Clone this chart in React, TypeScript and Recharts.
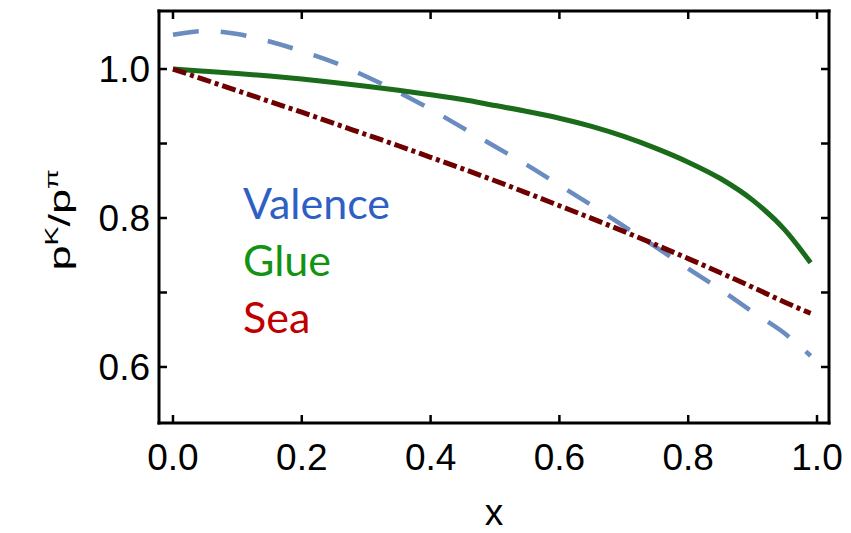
import React from 'react';
import { LineChart, Line, XAxis, YAxis, Legend } from 'recharts';

const xValues = [0, 0.05, 0.1, 0.15, 0.2, 0.25, 0.3, 0.35, 0.4, 0.45, 0.5, 0.55, 0.6, 0.65, 0.7, 0.75, 0.8, 0.85, 0.9, 0.95, 0.99];
const valence = [1.046, 1.051, 1.047, 1.037, 1.024, 1.009, 0.99, 0.969, 0.946, 0.921, 0.896, 0.871, 0.844, 0.817, 0.789, 0.761, 0.732, 0.704, 0.674, 0.645, 0.615];
const glue = [1.0, 0.997, 0.994, 0.9905, 0.9865, 0.982, 0.977, 0.9715, 0.9655, 0.959, 0.951, 0.943, 0.934, 0.923, 0.9095, 0.8935, 0.875, 0.853, 0.824, 0.784, 0.74];
const sea = [1.0, 0.9855, 0.971, 0.9565, 0.942, 0.927, 0.912, 0.897, 0.8815, 0.866, 0.85, 0.8335, 0.8165, 0.7995, 0.782, 0.764, 0.7455, 0.7265, 0.707, 0.687, 0.672];

const xTicks = [0, 0.2, 0.4, 0.6, 0.8, 1.0];
const yTicks = [0.6, 0.7, 0.8, 0.9, 1.0];
const yLabeled = [0.6, 0.8, 1.0];

const seriesNames = ['Valence', 'Glue', 'Sea'];
const legendColors: Record<string, string> = { Valence: '#2f5fc4', Glue: '#129312', Sea: '#c00000' };

const data = xValues.map((x, i) => ({ x, valence: valence[i], glue: glue[i], sea: sea[i] }));

const TICK_FONT = '"Liberation Sans", Arial, sans-serif';
const TICK_LEN = 8;

const XTickBottom = (props: any) => {
  const { x, y, payload } = props;
  return (
    <g>
      <line x1={x} y1={y} x2={x} y2={y - TICK_LEN} stroke="#000" strokeWidth={2.5} />
      <text x={x} y={y + 47} textAnchor="middle" fontFamily={TICK_FONT} fontSize={37} fill="#000">
        {Number(payload.value).toFixed(1)}
      </text>
    </g>
  );
};

const XTickTop = (props: any) => {
  const { x, y } = props;
  return <line x1={x} y1={y} x2={x} y2={y + TICK_LEN} stroke="#000" strokeWidth={2.5} />;
};

const YTickLeft = (props: any) => {
  const { x, y, payload } = props;
  const v = Number(payload.value);
  const labeled = yLabeled.some((t) => Math.abs(t - v) < 1e-6);
  return (
    <g>
      <line x1={x} y1={y} x2={x + TICK_LEN} y2={y} stroke="#000" strokeWidth={2.5} />
      {labeled && (
        <text x={x - 9} y={y + 13} textAnchor="end" fontFamily={TICK_FONT} fontSize={37} fill="#000">
          {v.toFixed(1)}
        </text>
      )}
    </g>
  );
};

const YTickRight = (props: any) => {
  const { x, y } = props;
  return <line x1={x} y1={y} x2={x - TICK_LEN} y2={y} stroke="#000" strokeWidth={2.5} />;
};

const renderLegend = (props: any) => {
  const payload = (props.payload || []).filter((e: any) => seriesNames.includes(e.value));
  payload.sort((a: any, b: any) => seriesNames.indexOf(a.value) - seriesNames.indexOf(b.value));
  return (
    <div style={{ fontFamily: 'Lato, "Open Sans", sans-serif', fontSize: 43, lineHeight: '57px' }}>
      {payload.map((entry: any) => (
        <div key={entry.value} style={{ color: legendColors[entry.value] || entry.color }}>
          {entry.value}
        </div>
      ))}
    </div>
  );
};

const axisLine = { stroke: '#000', strokeWidth: 3, strokeLinecap: 'square' as const };
const xDomain: [number, number] = [-0.0217, 1.0186];
const yDomain: [number, number] = [0.5248, 1.0779];

export default function App() {
  return (
    <div style={{ position: 'absolute', left: 0, top: 0, width: 851, height: 533, background: '#fff' }}>
      <LineChart width={851} height={533} data={data} margin={{ top: 10, right: 21, bottom: 0, left: 0 }}>
        <XAxis
          dataKey="x"
          type="number"
          domain={xDomain}
          allowDataOverflow
          ticks={xTicks}
          interval={0}
          height={110}
          tickSize={0}
          tickMargin={0}
          tickLine={false}
          axisLine={axisLine}
          tick={(p: any) => <XTickBottom {...p} />}
        />
        <XAxis
          xAxisId="top"
          orientation="top"
          dataKey="x"
          type="number"
          domain={xDomain}
          allowDataOverflow
          ticks={xTicks}
          interval={0}
          height={1}
          tickSize={0}
          tickMargin={0}
          tickLine={false}
          axisLine={axisLine}
          tick={(p: any) => <XTickTop {...p} />}
        />
        <YAxis
          type="number"
          domain={yDomain}
          allowDataOverflow
          ticks={yTicks}
          interval={0}
          width={159}
          tickSize={0}
          tickMargin={0}
          tickLine={false}
          axisLine={axisLine}
          tick={(p: any) => <YTickLeft {...p} />}
        />
        <YAxis
          yAxisId="right"
          orientation="right"
          type="number"
          domain={yDomain}
          allowDataOverflow
          ticks={yTicks}
          interval={0}
          width={1}
          tickSize={0}
          tickMargin={0}
          tickLine={false}
          axisLine={axisLine}
          tick={(p: any) => <YTickRight {...p} />}
        />
        <Legend
          layout="vertical"
          align="center"
          verticalAlign="middle"
          content={renderLegend}
          wrapperStyle={{ position: 'absolute', left: 243, top: 174, width: 'auto', height: 'auto' }}
        />
        <Line
          name={seriesNames[0]}
          dataKey="valence"
          type="monotone"
          stroke="#6a8cc0"
          strokeWidth={4.5}
          strokeDasharray="26 22"
          dot={false}
          isAnimationActive={false}
        />
        <Line
          name={seriesNames[1]}
          dataKey="glue"
          type="monotone"
          stroke="#1a6b1a"
          strokeWidth={5}
          dot={false}
          isAnimationActive={false}
        />
        <Line
          name={seriesNames[2]}
          dataKey="sea"
          type="monotone"
          stroke="#6e0000"
          strokeWidth={5}
          strokeDasharray="14 4 4 4"
          dot={false}
          isAnimationActive={false}
        />
        <Line
          name="frame"
          xAxisId="top"
          yAxisId="right"
          dataKey="sea"
          stroke="none"
          strokeWidth={0}
          legendType="none"
          dot={false}
          activeDot={false}
          isAnimationActive={false}
        />
      </LineChart>
      <svg width={851} height={533} style={{ position: 'absolute', left: 0, top: 0, pointerEvents: 'none' }}>
        <text x={494} y={525} textAnchor="middle" fontFamily={TICK_FONT} fontSize={37} fill="#000">
          x
        </text>
        <text
          transform="translate(70,220) rotate(-90) scale(1.5,1)"
          textAnchor="middle"
          fontFamily={TICK_FONT}
          fontSize={30}
          fill="#000"
        >
          p<tspan fontSize={19} dy={-12}>K</tspan>
          <tspan dy={12}>/p</tspan>
          <tspan fontSize={19} dy={-12}>π</tspan>
        </text>
      </svg>
    </div>
  );
}
